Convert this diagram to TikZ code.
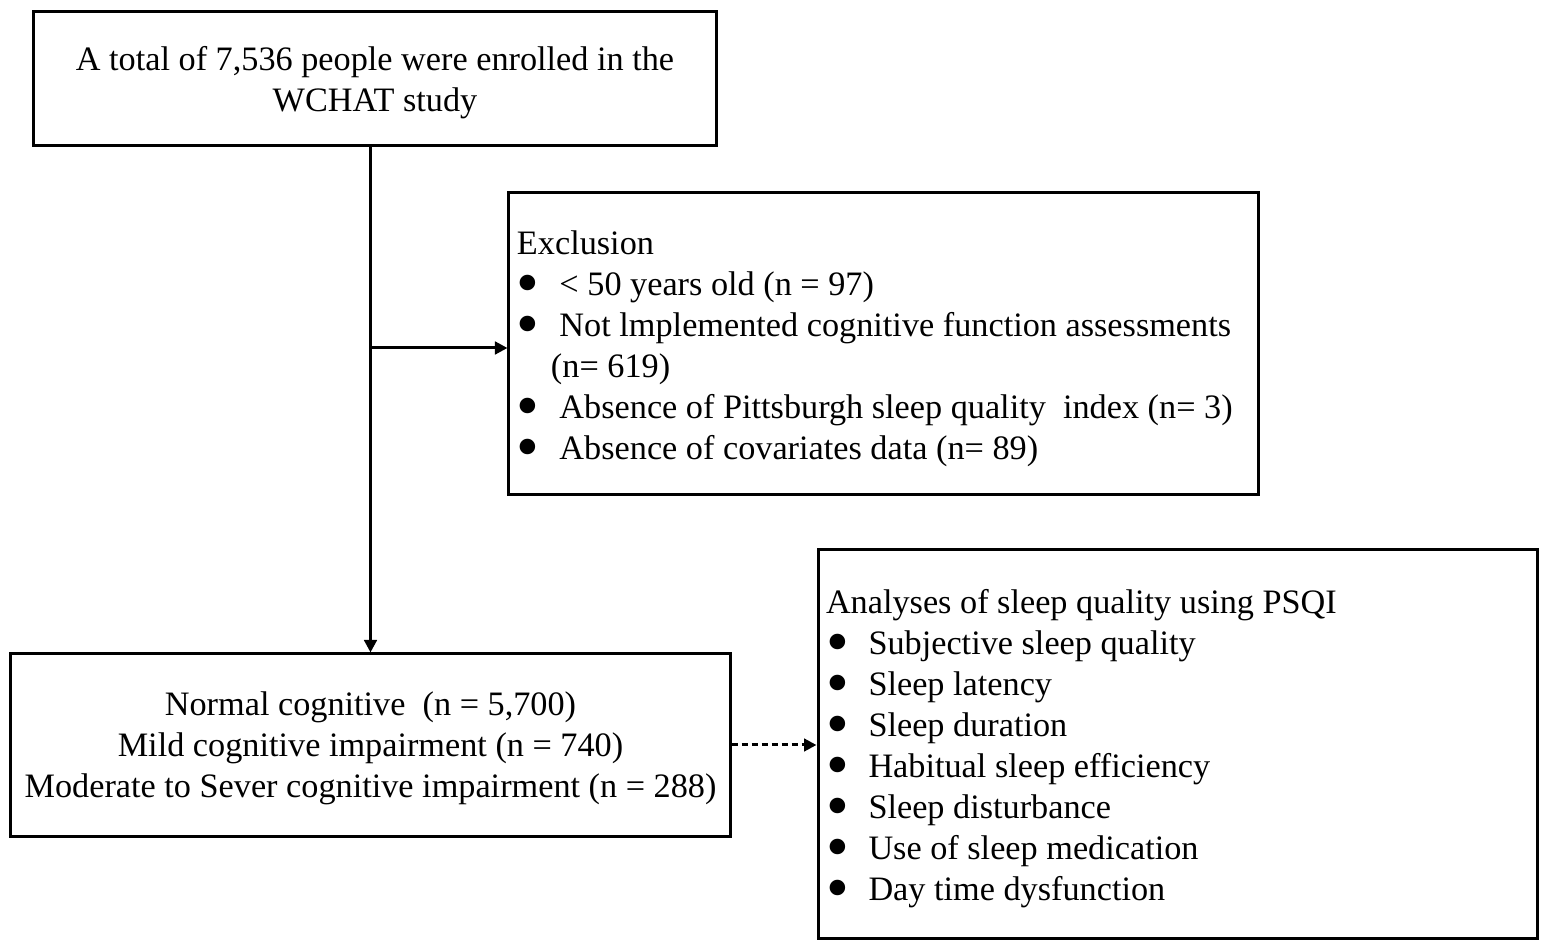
\documentclass[tikz,border=0pt]{standalone}
\usepackage{fontspec}
\setmainfont{Liberation Serif}
\usetikzlibrary{arrows.meta}
\newcommand{\itembullet}{\makebox[17pt][l]{\smash{\raisebox{-3.9pt}{\fontsize{26}{0}\selectfont\textbullet}}}}

\begin{document}
\begin{tikzpicture}[x=0.4pt, y=-0.4pt]
            \tikzset{box/.style={draw, line width=1.2pt, inner xsep=3.2pt, inner ysep=0pt,
                font=\fontsize{13.7}{16.4}\selectfont}}
            \tikzset{midbox/.style={box, align=center, text depth=0pt}}
            \tikzset{listbox/.style={box, align=flush left, text height=13pt}}
            \tikzset{flow/.style={line width=1.2pt, -{Triangle[length=5pt, width=5pt]}}}
            \tikzset{dashflow/.style={flow, dash pattern=on 2.4pt off 1.6pt}}
            \useasboundingbox (0, 0) rectangle (1548, 951);

            \node[midbox, minimum width=272.8pt, minimum height=53.6pt] (enrolled) at (375, 79)
                {A total of 7,536 people were enrolled in the\\WCHAT study};
            \node[listbox, text width=293.2pt, minimum height=120.8pt] (exclusion) at (883.5, 344)
                {Exclusion\\
                 \itembullet < 50 years old (n = 97)\\
                 \itembullet Not lmplemented cognitive function assessments\\
                 \hspace*{13.6pt}(n= 619)\\
                 \itembullet Absence of Pittsburgh sleep quality\ \ index (n= 3)\\
                 \itembullet Absence of covariates data (n= 89)};
            \node[midbox, minimum width=287.6pt, minimum height=72.8pt] (cognition) at (370.5, 745)
                {Normal cognitive\ \ (n = 5,700)\\
                 Mild cognitive impairment (n = 740)\\
                 Moderate to Sever cognitive impairment (n = 288)};
            \node[listbox, text width=281.2pt, minimum height=155.2pt] (psqi) at (1177.5, 744)
                {Analyses of sleep quality using PSQI\\
                 \itembullet Subjective sleep quality\\
                 \itembullet Sleep latency\\
                 \itembullet Sleep duration\\
                 \itembullet Habitual sleep efficiency\\
                 \itembullet Sleep disturbance\\
                 \itembullet Use of sleep medication\\
                 \itembullet Day time dysfunction};

            \coordinate (branch) at (370.5, 348);
            \draw[flow] (cognition.north |- enrolled.south) -- (cognition.north);
            \draw[flow] (branch) -- (exclusion.west |- branch);
            \draw[dashflow] (cognition.east) -- (psqi.west |- cognition.east);
        \end{tikzpicture}
\end{document}
